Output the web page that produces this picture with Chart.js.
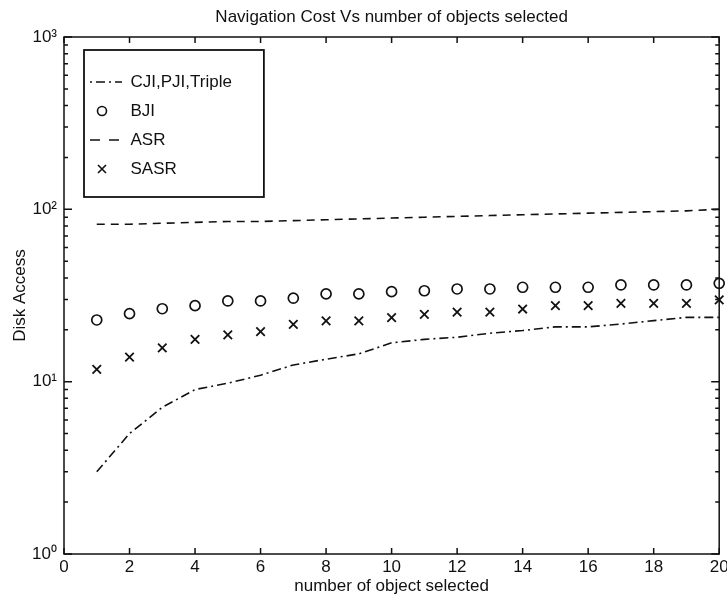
<!DOCTYPE html>
<html>
<head>
<meta charset="utf-8">
<script src="https://cdn.jsdelivr.net/npm/chart.js@4/dist/chart.umd.min.js"></script>
<style>
  html, body { margin: 0; padding: 0; background: #fff; }
  canvas { display: block; }
</style>
</head>
<body>
<canvas id="navChart" width="727" height="601"></canvas>
<script>
// values
const xValues = [1, 2, 3, 4, 5, 6, 7, 8, 9, 10, 11, 12, 13, 14, 15, 16, 17, 18, 19, 20];
const cjiValues = [3.0, 5.0, 7.1, 9.0, 9.8, 10.9, 12.5, 13.5, 14.5, 16.8, 17.6, 18.1, 19.1, 19.8, 20.8, 20.8, 21.6, 22.6, 23.6, 23.6];
const bjiValues = [22.8, 24.8, 26.5, 27.6, 29.4, 29.4, 30.5, 32.3, 32.3, 33.3, 33.7, 34.5, 34.5, 35.3, 35.3, 35.3, 36.4, 36.4, 36.4, 37.2];
const asrValues = [82, 82, 83, 84, 85, 85, 86, 87, 88, 89, 90, 91, 92, 93, 94, 95, 96, 97, 98, 100];
const sasrValues = [11.8, 13.9, 15.7, 17.6, 18.7, 19.5, 21.5, 22.5, 22.5, 23.5, 24.6, 25.3, 25.3, 26.4, 27.6, 27.6, 28.5, 28.5, 28.5, 29.8];
const seriesNames = ["CJI,PJI,Triple", "BJI", "ASR", "SASR"];
const yTickValues = [1, 2, 3, 4, 5, 6, 7, 8, 9, 10, 20, 30, 40, 50, 60, 70, 80, 90, 100, 200, 300, 400, 500, 600, 700, 800, 900, 1000];
const supDigits = ["\u2070", "\u00b9", "\u00b2", "\u00b3"];

const INK = "#111";
const FONT_SIZE = 17;
Chart.defaults.font.family = '"Liberation Sans", Arial, Helvetica, sans-serif';
Chart.defaults.color = INK;

function toPoints(ys) {
    return xValues.map((x, i) => ({ x: x, y: ys[i] }));
}

function isDecade(v) {
    const l = Math.log10(v);
    return Math.abs(l - Math.round(l)) < 1e-9;
}

// little canvases used as legend symbols
function legendIcon(draw) {
    const c = document.createElement("canvas");
    c.width = 32;
    c.height = 14;
    const g = c.getContext("2d");
    g.strokeStyle = INK;
    g.lineWidth = 1.6;
    draw(g);
    return c;
}
const legendIcons = [
    legendIcon(g => { g.setLineDash([2, 4, 9, 4]); g.beginPath(); g.moveTo(0, 7); g.lineTo(32, 7); g.stroke(); }),
    legendIcon(g => { g.beginPath(); g.arc(12, 7, 4.5, 0, Math.PI * 2); g.stroke(); }),
    legendIcon(g => { g.setLineDash([10, 9]); g.beginPath(); g.moveTo(0, 7); g.lineTo(32, 7); g.stroke(); }),
    legendIcon(g => { g.beginPath(); g.moveTo(8, 3); g.lineTo(16, 11); g.moveTo(16, 3); g.lineTo(8, 11); g.stroke(); })
];

const matlabFrame = {
    id: "matlabFrame",
    afterLayout(chart) {
        const a = chart.chartArea;
        // centre the title over the plot box, put the legend inside it
        chart.titleBlock.left = a.left;
        chart.titleBlock.right = a.right;
        const lg = chart.legend;
        lg.left = a.left + 14;
        lg.top = a.top + 24.5;
        lg.right = a.right;
        lg.bottom = a.bottom;
    },
    afterDraw(chart) {
        const { ctx, chartArea: a, scales: { x, y } } = chart;
        ctx.save();
        ctx.strokeStyle = INK;
        ctx.lineWidth = 1.5;
        ctx.strokeRect(a.left, a.top, a.right - a.left, a.bottom - a.top);
        ctx.beginPath();
        x.ticks.forEach(t => {
            const px = x.getPixelForValue(t.value);
            ctx.moveTo(px, a.bottom); ctx.lineTo(px, a.bottom - 6);
            ctx.moveTo(px, a.top); ctx.lineTo(px, a.top + 6);
        });
        y.ticks.forEach(t => {
            const py = y.getPixelForValue(t.value);
            const len = isDecade(t.value) ? 8 : 4;
            ctx.moveTo(a.left, py); ctx.lineTo(a.left + len, py);
            ctx.moveTo(a.right, py); ctx.lineTo(a.right - len, py);
        });
        ctx.stroke();

        // box round the legend
        const hb = chart.legend.legendHitBoxes;
        if (hb && hb.length) {
            const left = hb[0].left - 6;
            const top = hb[0].top - 23.5;
            const right = Math.max(...hb.map(h => h.left + h.width)) + 32;
            const last = hb[hb.length - 1];
            const bottom = last.top + last.height + 19.5;
            ctx.lineWidth = 1.8;
            ctx.strokeRect(left, top, right - left, bottom - top);
        }
        ctx.restore();
    }
};

new Chart(document.getElementById("navChart"), {
    type: "line",
    data: {
        datasets: [
            {
                label: seriesNames[0],
                data: toPoints(cjiValues),
                borderColor: INK,
                borderWidth: 1.6,
                borderDash: [9, 4, 2, 4],
                pointRadius: 0,
                tension: 0
            },
            {
                label: seriesNames[1],
                data: toPoints(bjiValues),
                showLine: false,
                pointStyle: "circle",
                pointRadius: 5,
                pointBorderWidth: 1.7,
                pointBorderColor: INK,
                pointBackgroundColor: "rgba(0,0,0,0)",
                borderColor: INK,
                clip: false
            },
            {
                label: seriesNames[2],
                data: toPoints(asrValues),
                borderColor: INK,
                borderWidth: 1.6,
                borderDash: [8, 6],
                pointRadius: 0,
                tension: 0
            },
            {
                label: seriesNames[3],
                data: toPoints(sasrValues),
                showLine: false,
                pointStyle: "crossRot",
                pointRadius: 6,
                pointBorderWidth: 1.8,
                pointBorderColor: INK,
                borderColor: INK,
                clip: false
            }
        ]
    },
    options: {
        responsive: false,
        animation: false,
        layout: { padding: { left: 0, right: 6, top: 0, bottom: 0 } },
        plugins: {
            tooltip: { enabled: false },
            title: {
                display: true,
                text: "Navigation Cost Vs number of objects selected",
                color: INK,
                font: { size: FONT_SIZE, weight: "normal" },
                padding: { top: 6.8, bottom: 9.8 }
            },
            legend: {
                position: "chartArea",
                align: "start",
                labels: {
                    usePointStyle: true,
                    pointStyleWidth: 32,
                    padding: 12,
                    color: INK,
                    font: { size: FONT_SIZE },
                    generateLabels: chart => chart.data.datasets.map((ds, i) => ({
                        text: ds.label,
                        pointStyle: legendIcons[i],
                        datasetIndex: i,
                        hidden: false,
                        lineWidth: 0,
                        fontColor: INK,
                        strokeStyle: "rgba(0,0,0,0)",
                        fillStyle: "rgba(0,0,0,0)"
                    }))
                }
            }
        },
        scales: {
            x: {
                type: "linear",
                min: 0,
                max: 20,
                grid: { display: false, drawTicks: false },
                border: { display: false },
                ticks: { stepSize: 2, padding: 3, color: INK, font: { size: FONT_SIZE } },
                title: {
                    display: true,
                    text: "number of object selected",
                    color: INK,
                    font: { size: FONT_SIZE },
                    padding: { top: 0, bottom: 4.8 }
                },
                afterFit(scale) {
                    scale.height = 47;
                    scale.paddingLeft = 0;
                    scale.paddingRight = 0;
                }
            },
            y: {
                type: "logarithmic",
                min: 1,
                max: 1000,
                grid: { display: false, drawTicks: false },
                border: { display: false },
                afterBuildTicks(scale) {
                    scale.ticks = yTickValues.map(v => ({ value: v }));
                },
                ticks: {
                    autoSkip: false,
                    padding: 7,
                    color: INK,
                    font: { size: FONT_SIZE },
                    callback: v => isDecade(v) ? "10" + supDigits[Math.round(Math.log10(v))] : ""
                },
                title: {
                    display: true,
                    text: "Disk Access",
                    color: INK,
                    font: { size: FONT_SIZE },
                    padding: { top: 9.8, bottom: 0 }
                },
                afterFit(scale) {
                    scale.width = 64;
                }
            }
        }
    },
    plugins: [matlabFrame]
});
</script>
</body>
</html>
